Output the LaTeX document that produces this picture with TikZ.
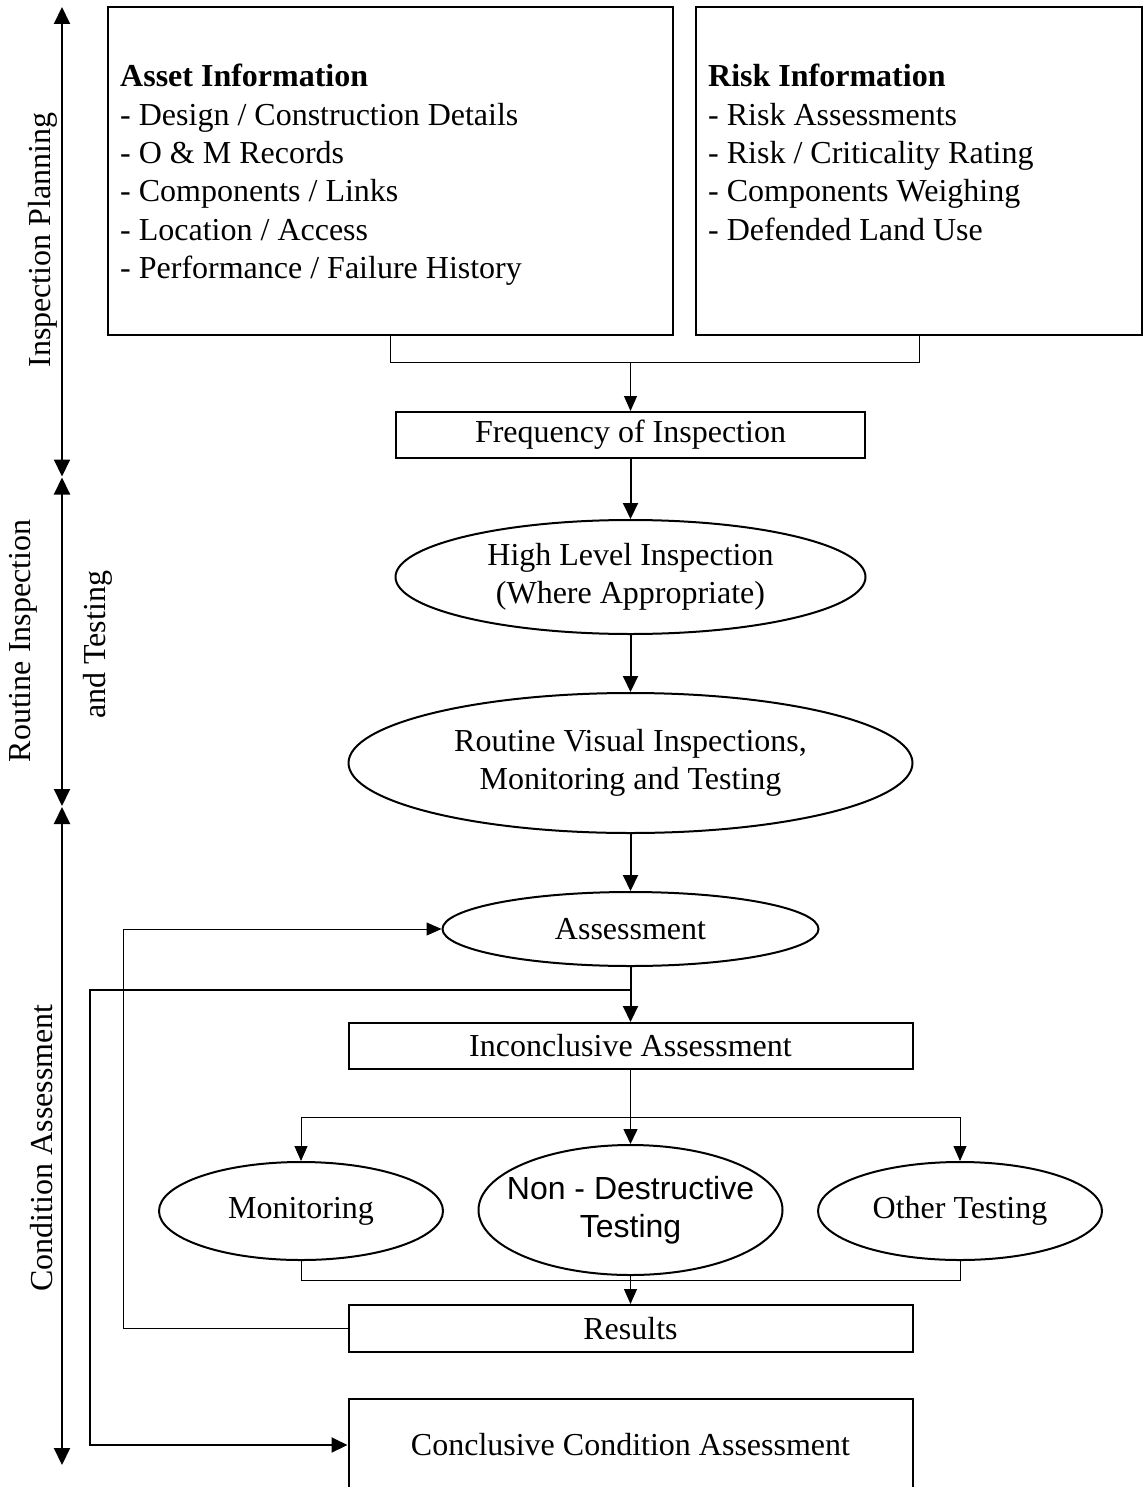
\documentclass[tikz,border=0pt]{standalone}
\usepackage{fontspec}
\setmainfont{Liberation Serif}
\newfontfamily\arialfont{Liberation Sans}
\usetikzlibrary{shapes.geometric,arrows.meta}

\begin{document}
\begin{tikzpicture}[x=1pt,y=-1pt,
  every node/.style={font=\fontsize{32}{38.4}\selectfont},
  box/.style={draw,line width=2pt,inner sep=0pt},
  oval/.style={draw,ellipse,line width=2pt,inner sep=0pt,align=center},
  thickarrow/.style={line width=2pt,-{Triangle[length=16pt,width=15pt]}},
  thinline/.style={line width=1pt},
  thinarrow/.style={line width=1pt,-{Triangle[length=15pt,width=13pt]}},
  midarrow/.style={line width=1.5pt,-{Triangle[length=15pt,width=14pt]}},
  span/.style={line width=2pt,{Triangle[length=17pt,width=16pt]}-{Triangle[length=17pt,width=16pt]}},
  sidelabel/.style={rotate=90,anchor=center,inner sep=0pt},
  listtext/.style={anchor=north west,align=left,inner sep=0pt}
]
\useasboundingbox (0,0) rectangle (1144,1487);

% ---- stage arrows and labels on the left ----
\coordinate (s1a) at (62,7);
\coordinate (s1b) at (62,476.5);
\coordinate (s2a) at (62,477.5);
\coordinate (s2b) at (62,806);
\coordinate (s3a) at (62,807);
\coordinate (s3b) at (62,1465);
\draw[span] (s1a) -- (s1b);
\draw[span] (s2a) -- (s2b);
\draw[span] (s3a) -- (s3b);
\node[sidelabel] (lplan) at (43,240) {Inspection Planning};
\node[sidelabel] (lroutine) at (23,641) {Routine Inspection};
\node[sidelabel] (ltesting) at (98,645) {and Testing};
\node[sidelabel] (lcond) at (42,1148) {Condition Assessment};

% ---- information boxes ----
\node[box,minimum width=565pt,minimum height=328pt] (asset) at (390.5,171) {};
\node[box,minimum width=446pt,minimum height=328pt] (risk) at (919,171) {};
\node[listtext] (assettext) at (120,64) {\textbf{Asset Information}\\
- Design / Construction Details\\
- O \& M Records\\
- Components / Links\\
- Location / Access\\
- Performance / Failure History};
\node[listtext] (risktext) at (708,64) {\textbf{Risk Information}\\
- Risk Assessments\\
- Risk / Criticality Rating\\
- Components Weighing\\
- Defended Land Use};

% ---- main flow ----
\node[box,minimum width=469pt,minimum height=46pt] (freq) at (630.5,435) {Frequency of Inspection};
\node[oval,minimum width=470pt,minimum height=114pt] (high) at (630.5,577) {High Level Inspection\\(Where Appropriate)};
\node[oval,minimum width=564pt,minimum height=140pt] (routine) at (630.5,763) {Routine Visual Inspections,\\Monitoring and Testing};
\node[oval,minimum width=376pt,minimum height=74pt] (assess) at (630.5,929) {Assessment};
\node[box,minimum width=564pt,minimum height=46pt] (incon) at (630.5,1046) {Inconclusive Assessment};
\node[oval,minimum width=284pt,minimum height=98pt] (mon) at (301,1211) {Monitoring};
\node[oval,minimum width=304pt,minimum height=130pt,inner xsep=-30pt,font=\fontsize{32}{38}\arialfont] (ndt) at (630.5,1210) {Non - Destructive\\Testing};
\node[oval,minimum width=284pt,minimum height=98pt] (oth) at (960,1211) {Other Testing};
\node[box,minimum width=564pt,minimum height=47pt] (results) at (630.5,1328.5) {Results};
\node[box,minimum width=564pt,minimum height=92pt] (concl) at (630.5,1445) {Conclusive Condition Assessment};

% ---- connectors ----
\coordinate (merge) at (630.5,362);
\draw[thinline] (asset.south) -- (asset.south |- merge) -- (risk.south |- merge) -- (risk.south);
\draw[thinarrow] (merge) -- (freq.north);
\draw[thickarrow] (freq.south) -- (high.north);
\draw[thickarrow] (high.south) -- (routine.north);
\draw[thickarrow] (routine.south) -- (assess.north);
\draw[thickarrow] (assess.south) -- (incon.north);

% direct route to the conclusive assessment
\coordinate (split) at (630.5,990);
\coordinate (outer) at (90,990);
\draw[thickarrow] (split) -- (outer) |- (concl.west);

% feedback of results into the assessment
\coordinate (fb) at (123,1328.5);
\draw[thinarrow] (results.west) -- (fb) |- (assess.west);

% branching to the three test types
\coordinate (branch) at (630.5,1117);
\draw[midarrow] (incon.south) -- (ndt.north);
\draw[thinline] (mon.north |- branch) -- (oth.north |- branch);
\draw[thinarrow] (mon.north |- branch) -- (mon.north);
\draw[thinarrow] (oth.north |- branch) -- (oth.north);

% collecting the outcomes into the results
\coordinate (join) at (630.5,1280);
\draw[thinline] (mon.south) -- (mon.south |- join) -- (oth.south |- join) -- (oth.south);
\draw[thinarrow] (ndt.south) -- (results.north);
\end{tikzpicture}
\end{document}
